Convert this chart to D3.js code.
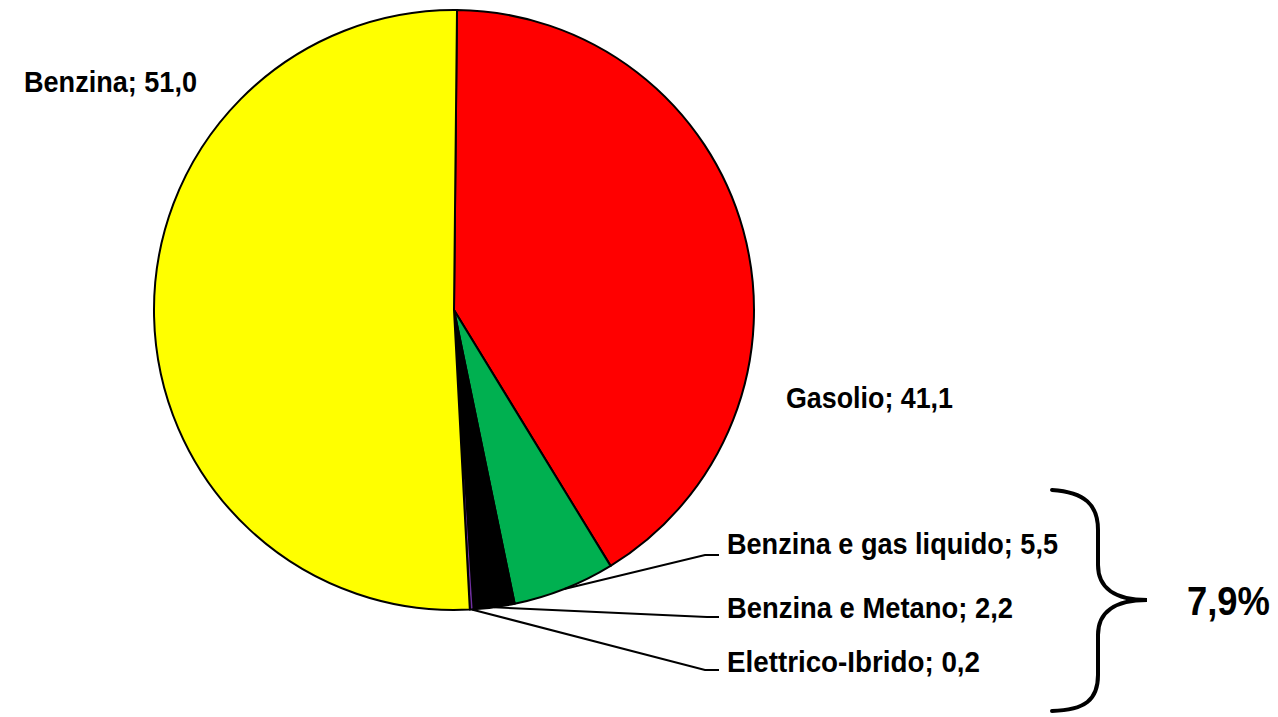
<!DOCTYPE html>
<meta charset="utf-8">
<style>
  body { margin: 0; background: #fff; }
  .lbl {
    font-family: "Liberation Sans Narrow", "Arial Narrow", "Liberation Sans", sans-serif;
    font-weight: bold;
    fill: #000;
  }
</style>
<body>
<script src="https://cdn.jsdelivr.net/npm/d3@7"></script>
<script>
var categories = ['Gasolio', 'Benzina e gas liquido', 'Benzina e Metano', 'Elettrico-Ibrido', 'Benzina'];
var values = [41.1, 5.5, 2.2, 0.2, 51.0];
var colors = ['#ff0000', '#00b050', '#000000', '#7030a0', '#ffff00'];
var groupTotal = '7,9%';

var width = 1278, height = 717;
var cx = 454, cy = 310, r = 300;

var svg = d3.select('body').append('svg')
    .attr('width', width)
    .attr('height', height);

var data = categories.map(function (c, i) { return { name: c, value: values[i], color: colors[i] }; });

var pie = d3.pie()
    .sort(null)
    .value(function (d) { return d.value; })
    .startAngle(0.01)
    .endAngle(2 * Math.PI + 0.01);

var arc = d3.arc().innerRadius(0).outerRadius(r);
var rim = d3.arc().innerRadius(r).outerRadius(r);

var arcs = pie(data);

var g = svg.append('g').attr('transform', 'translate(' + cx + ',' + cy + ')');

g.selectAll('path.slice')
    .data(arcs)
  .enter().append('path')
    .attr('class', 'slice')
    .attr('d', arc)
    .attr('fill', function (d) { return d.data.color; })
    .attr('stroke', '#000')
    .attr('stroke-width', 2)
    .attr('stroke-linejoin', 'round');

var fmt = function (v) { return String(v.toFixed(1)).replace('.', ','); };

// big labels, no leader
var bigLabels = [
  { i: 4, x: 24, y: 92, w: 173 },
  { i: 0, x: 786, y: 408, w: 167 }
];
svg.selectAll('text.big')
    .data(bigLabels)
  .enter().append('text')
    .attr('class', 'lbl big')
    .attr('x', function (d) { return d.x; })
    .attr('y', function (d) { return d.y; })
    .attr('font-size', 30)
    .attr('textLength', function (d) { return d.w; })
    .attr('lengthAdjust', 'spacingAndGlyphs')
    .text(function (d) { return categories[d.i] + '; ' + fmt(values[d.i]); });

// small slices with leader lines
var small = [
  { i: 1, elbow: 705, ly: 555, ty: 554, w: 331 },
  { i: 2, elbow: 707, ly: 617, ty: 618, w: 286 },
  { i: 3, elbow: 705, ly: 670, ty: 672, w: 253 }
];
var endX = 719, textX = 727;

small.forEach(function (s) {
  var p = rim.centroid(arcs[s.i]);
  var sx = cx + p[0], sy = cy + p[1];
  svg.append('path')
      .attr('d', d3.line()([[sx, sy], [s.elbow, s.ly], [endX, s.ly]]))
      .attr('fill', 'none')
      .attr('stroke', '#000')
      .attr('stroke-width', 2);
  svg.append('text')
      .attr('class', 'lbl')
      .attr('x', textX)
      .attr('y', s.ty)
      .attr('font-size', 30)
      .attr('textLength', s.w)
      .attr('lengthAdjust', 'spacingAndGlyphs')
      .text(categories[s.i] + '; ' + fmt(values[s.i]));
});

// curly brace grouping the three small slices
svg.append('path')
    .attr('d', 'M1052,490 C1085,492 1098,505 1098,530 L1098,565 C1098,588 1115,600 1147,600 ' +
               'C1115,600 1098,612 1098,635 L1098,675 C1098,700 1085,710 1052,711')
    .attr('fill', 'none')
    .attr('stroke', '#000')
    .attr('stroke-width', 4)
    .attr('stroke-linecap', 'round');

svg.append('text')
    .attr('class', 'lbl')
    .attr('x', 1187)
    .attr('y', 615)
    .attr('font-size', 40)
    .attr('textLength', 83)
    .attr('lengthAdjust', 'spacingAndGlyphs')
    .text(groupTotal);
</script>
</body>
